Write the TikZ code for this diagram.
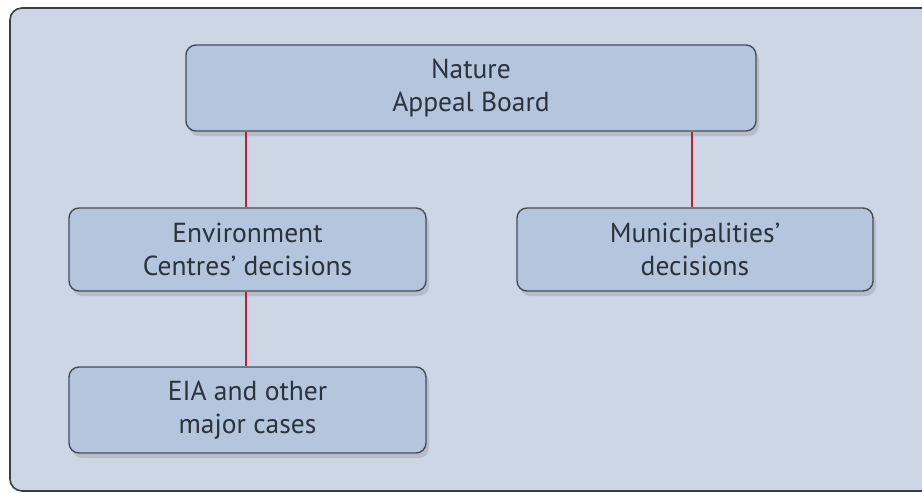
\documentclass[tikz,border=0pt]{standalone}
\usepackage{fontspec}
\setmainfont{PT Sans}
\usetikzlibrary{shadows}
\definecolor{panelfill}{HTML}{CDD6E5}
\definecolor{panelline}{HTML}{3A3F47}
\definecolor{boxfill}{HTML}{B4C5DD}
\definecolor{boxline}{HTML}{474D57}
\definecolor{linkred}{HTML}{C21E3A}
\definecolor{txt}{HTML}{2B323D}
\tikzset{
  orgbox/.style={draw=boxline, line width=1.4pt, fill=boxfill, rounded corners=10pt,
    align=center, text=txt, font=\fontsize{27.5}{33}\selectfont, inner sep=0pt,
    drop shadow={shadow xshift=3pt, shadow yshift=-5pt, opacity=0.18, fill=black!70}},
  link/.style={draw=linkred, line width=2pt}
}
\begin{document}
\begin{tikzpicture}[x=1pt, y=-1pt]
  \useasboundingbox (0,0) rectangle (922,493);
  \clip (0,0) rectangle (922,493);
  % background panel
  \draw[panelline, line width=1.6pt, fill=panelfill, rounded corners=12pt]
    (10,8) rectangle (960,491);
  % boxes
  \node[orgbox, minimum width=570pt, minimum height=86pt] (nab) at (471,88)
    {Nature\\Appeal Board};
  \node[orgbox, minimum width=357pt, minimum height=83pt] (env) at (247.5,249.5)
    {Environment\\Centres’ decisions};
  \node[orgbox, minimum width=356pt, minimum height=83pt] (mun) at (695,249.5)
    {Municipalities’\\decisions};
  \node[orgbox, minimum width=357pt, minimum height=86pt] (eia) at (247.5,410)
    {EIA and other\\major cases};
  % connectors
  \draw[link] (nab.south -| 246,0) -- (env.north -| 246,0);
  \draw[link] (nab.south -| 692,0) -- (mun.north -| 692,0);
  \draw[link] (env.south -| 246,0) -- (eia.north -| 246,0);
\end{tikzpicture}
\end{document}
